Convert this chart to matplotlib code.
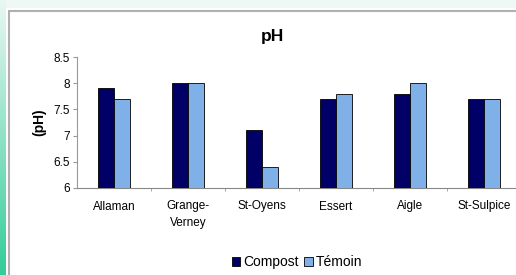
import numpy as np
import matplotlib
matplotlib.use('Agg')
import matplotlib.pyplot as plt
import matplotlib.patches as mpatches

plt.rcParams['font.family'] = ['Liberation Sans', 'DejaVu Sans']

# ── Data ─────────────────────────────────────────────────────────────────────
sites   = ['Allaman', 'Grange-\nVerney', 'St-Oyens', 'Essert', 'Aigle', 'St-Sulpice']
compost = [7.9, 8.0, 7.1, 7.7, 7.8, 7.7]
temoin  = [7.7, 8.0, 6.4, 7.8, 8.0, 7.7]
yticks  = [6, 6.5, 7, 7.5, 8, 8.5]

C_DARK  = '#000066'
C_LIGHT = '#7fb0e8'

fig = plt.figure(figsize=(5.16, 2.75), dpi=100)
fig.patch.set_facecolor('white')

# ── Background frame: mint strip on top, green gradient on the left ──────────
bg = fig.add_axes([0, 0, 1, 1], zorder=0)
bg.axis('off')
bg.add_patch(mpatches.Rectangle((0, 0), 516, 8, facecolor='#eef8f4', edgecolor='none'))
grad = np.linspace(0, 1, 256).reshape(-1, 1)
cmap = matplotlib.colors.LinearSegmentedColormap.from_list('g', ['#eaf7f2', '#33cc99'])
bg.imshow(grad, cmap=cmap, extent=[0, 6, 275, 0], aspect='auto', zorder=1)
bg.add_patch(mpatches.Rectangle((9, 11), 520, 270, facecolor='white',
                                edgecolor='#b0b0b0', linewidth=1.5, zorder=2))
bg.set_xlim(0, 516)
bg.set_ylim(275, 0)

# ── Chart ────────────────────────────────────────────────────────────────────
ax = fig.add_axes([77 / 516, 1 - 188 / 275, 444 / 516, 131 / 275], zorder=2)
ax.patch.set_alpha(0)

x = np.arange(len(sites))
w = 0.21
ax.bar(x - w / 2, compost, w, color=C_DARK, edgecolor='black', linewidth=0.6, zorder=3)
ax.bar(x + w / 2, temoin, w, color=C_LIGHT, edgecolor='black', linewidth=0.6, zorder=3)

ax.set_xlim(-0.5, len(sites) - 0.5)
ax.set_ylim(6, 8.5)
ax.set_yticks(yticks)
ax.set_yticklabels(['6', '6.5', '7', '7.5', '8', '8.5'], fontsize=8.5)
ax.set_xticks(x)
ax.set_xticklabels(sites, fontsize=8.5, linespacing=1.5)
ax.tick_params(axis='x', length=0, pad=9)
ax.set_xticks(np.arange(len(sites) - 1) + 0.5, minor=True)
ax.tick_params(axis='x', which='minor', length=2, color='#999999', direction='out')
ax.tick_params(axis='y', length=3, color='#999999', pad=2)

for s in ['top', 'right']:
    ax.spines[s].set_visible(False)
ax.spines['left'].set_color('#999999')
ax.spines['bottom'].set_color('#888888')

ax.set_ylabel('(pH)', fontsize=10, fontweight='bold', labelpad=5)
fig.text(272 / 516, 1 - 36 / 275, 'pH', ha='center', va='center',
         fontsize=12.5, fontweight='bold')

handles = [mpatches.Patch(facecolor=C_DARK, edgecolor='black', linewidth=0.6),
           mpatches.Patch(facecolor=C_LIGHT, edgecolor='black', linewidth=0.6)]
fig.legend(handles, ['Compost', 'Témoin'], loc='center', ncol=2,
           bbox_to_anchor=(297 / 516, 1 - 262 / 275), frameon=False, fontsize=10,
           handlelength=0.6, handleheight=0.6, handletextpad=0.2, columnspacing=0.4)

fig.savefig('out.png', dpi=100, facecolor='white')
